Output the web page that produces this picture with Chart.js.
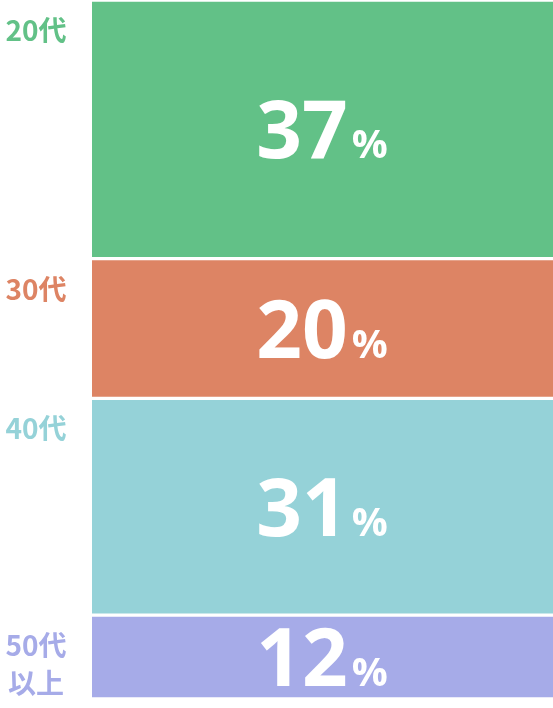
<!DOCTYPE html>
<html><head><meta charset="utf-8">
<script src="https://cdn.jsdelivr.net/npm/chart.js@4"></script>
<style>html,body{margin:0;padding:0;background:#fff}#w{width:553px;height:708px}</style>
</head><body><div id="w"><canvas id="c"></canvas></div>
<script>
const categories = ["20代", "30代", "40代", "50代\n以上"];
const values = [37, 20, 31, 12];
const colors = ["#62c187", "#dd8464", "#95d2d8", "#a6abe8"];

const labelPlugin = {
  id: 'labels',
  afterDatasetsDraw(chart) {
    const ctx = chart.ctx;
    chart.data.datasets.forEach((ds, i) => {
      const bar = chart.getDatasetMeta(i).data[0];
      const top = Math.min(bar.y, bar.base), bot = Math.max(bar.y, bar.base);
      const cy = (top + bot) / 2;
      ctx.save();
      ctx.fillStyle = '#fff';
      ctx.textBaseline = 'alphabetic';
      const big = 'bold 80px "Open Sans", sans-serif';
      const small = 'bold 40px "Open Sans", sans-serif';
      ctx.font = big; const w1 = ctx.measureText(String(values[i])).width;
      ctx.font = small; const w2 = ctx.measureText('%').width;
      const x0 = 322 - (w1 + w2 + 4) / 2;
      ctx.font = big; ctx.textAlign = 'left';
      ctx.fillText(String(values[i]), x0, cy + 29);
      ctx.font = small; ctx.fillText('%', x0 + w1 + 4, cy + 29);
      ctx.fillStyle = colors[i];
      ctx.font = 'bold 28px "Noto Sans CJK JP", sans-serif';
      ctx.textAlign = 'center';
      categories[i].split('\n').forEach((l, k) => ctx.fillText(l, 36, top + 41 + k * 38));
      ctx.restore();
    });
  }
};

new Chart(document.getElementById('c'), {
  type: 'bar',
  data: {
    labels: [''],
    datasets: values.map((v, i) => ({
      label: categories[i], data: [v], backgroundColor: colors[i],
      borderColor: '#fff', borderWidth: {top: 2, bottom: 2, left: 0, right: 0},
      borderSkipped: false, barPercentage: 1, categoryPercentage: 1
    }))
  },
  options: {
    responsive: true, maintainAspectRatio: false, animation: false,
    layout: {padding: {left: 92, right: 0, top: -2, bottom: 9}},
    plugins: {legend: {display: false}, tooltip: {enabled: false}},
    scales: {
      x: {stacked: true, display: false},
      y: {stacked: true, display: false, reverse: true, min: 0, max: 100}
    }
  },
  plugins: [labelPlugin]
});
</script></body></html>
